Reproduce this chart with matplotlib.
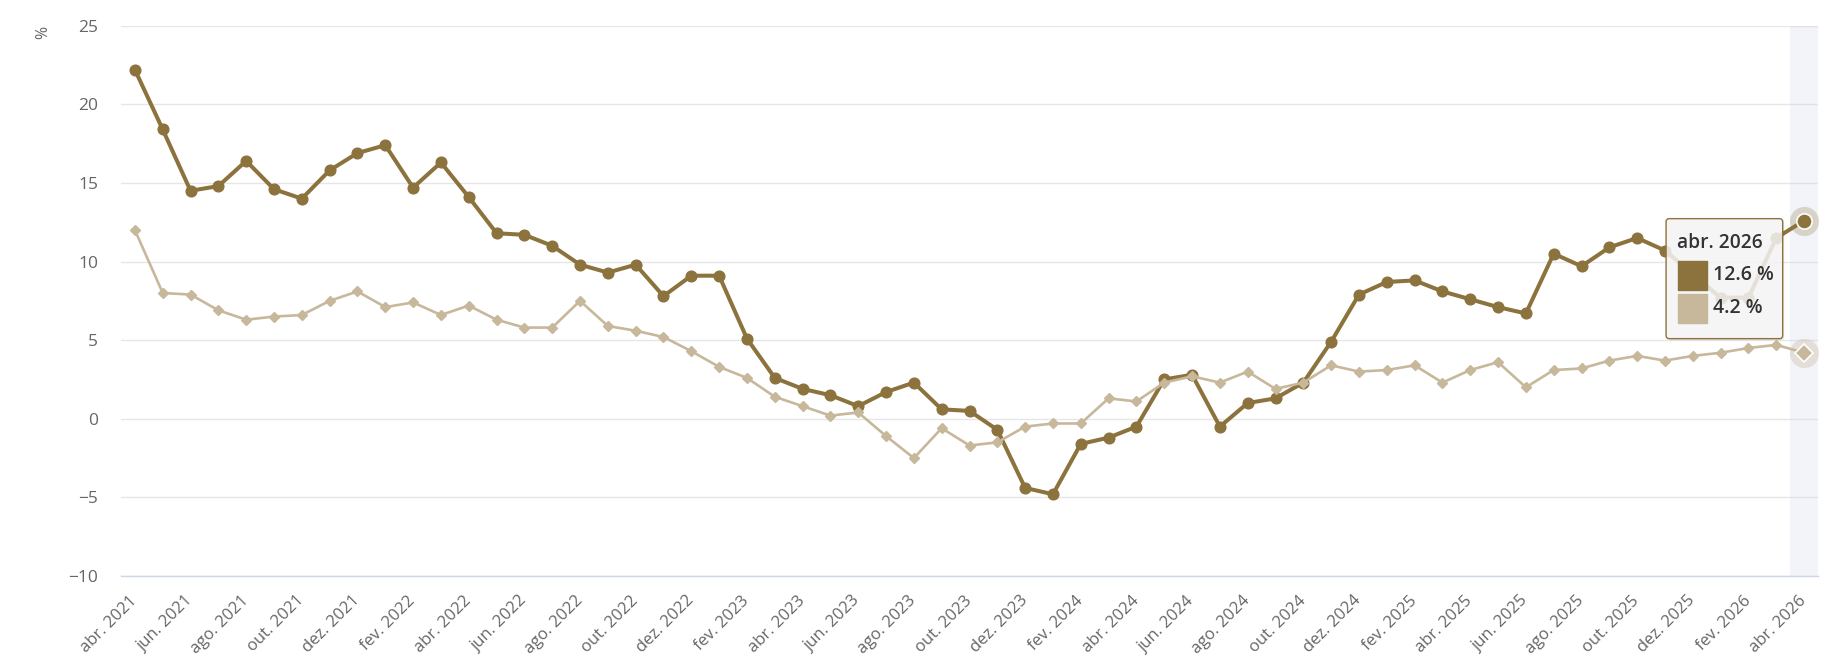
import matplotlib.pyplot as plt
from matplotlib.patches import Rectangle, FancyBboxPatch

plt.rcParams['font.family'] = ['Open Sans', 'DejaVu Sans']

# categorias mensais abr. 2021 .. abr. 2026
meses = ['jan.', 'fev.', 'mar.', 'abr.', 'mai.', 'jun.',
         'jul.', 'ago.', 'set.', 'out.', 'nov.', 'dez.']
categorias = []
for i in range(61):
    m = (3 + i) % 12
    ano = 2021 + (3 + i) // 12
    categorias.append(meses[m] + ' ' + str(ano))

serie_escura = [22.2, 18.4, 14.5, 14.8, 16.4, 14.6, 14.0, 15.8, 16.9, 17.4,
                14.7, 16.3, 14.1, 11.8, 11.7, 11.0, 9.8, 9.3, 9.8, 7.8,
                9.1, 9.1, 5.1, 2.6, 1.9, 1.5, 0.8, 1.7, 2.3, 0.6,
                0.5, -0.7, -4.4, -4.8, -1.6, -1.2, -0.5, 2.5, 2.8, -0.5,
                1.0, 1.3, 2.3, 4.9, 7.9, 8.7, 8.8, 8.1, 7.6, 7.1,
                6.7, 10.5, 9.7, 10.9, 11.5, 10.7, 9.2, 7.7, 7.7, 11.5, 12.6]
serie_clara = [12.0, 8.0, 7.9, 6.9, 6.3, 6.5, 6.6, 7.5, 8.1, 7.1,
               7.4, 6.6, 7.2, 6.3, 5.8, 5.8, 7.5, 5.9, 5.6, 5.2,
               4.3, 3.3, 2.6, 1.4, 0.8, 0.2, 0.4, -1.1, -2.5, -0.6,
               -1.7, -1.5, -0.5, -0.3, -0.3, 1.3, 1.1, 2.3, 2.7, 2.3,
               3.0, 1.9, 2.3, 3.4, 3.0, 3.1, 3.4, 2.3, 3.1, 3.6,
               2.0, 3.1, 3.2, 3.7, 4.0, 3.7, 4.0, 4.2, 4.5, 4.7, 4.2]

y_ticks = [-10, -5, 0, 5, 10, 15, 20, 25]

COR1 = '#8c723c'
COR2 = '#c7b89c'
TXT = '#666666'

W, H = 1845, 665
fig = plt.figure(figsize=(W / 100, H / 100), dpi=100)
ax = fig.add_axes([121 / W, 1 - 576 / H, (1818 - 121) / W, (576 - 25.7) / H])

x = list(range(len(categorias)))
ax.set_xlim(-0.5, len(categorias) - 0.5)
ax.set_ylim(-10, 25)

# faixa do crosshair no ultimo ponto
ax.axvspan(x[-1] - 0.5, x[-1] + 0.5, color='#ccd6eb', alpha=0.25, lw=0, zorder=1.5)

ax.plot(x, serie_escura, color=COR1, lw=2.9, marker='o', ms=7.7,
        solid_joinstyle='round', zorder=3)
ax.plot(x, serie_clara, color=COR2, lw=1.9, marker='D', ms=5.2,
        solid_joinstyle='round', zorder=4)

# pontos em hover
ax.plot(x[-1], serie_escura[-1], 'o', ms=21, color=COR1, alpha=0.25, mec='none', zorder=5)
ax.plot(x[-1], serie_escura[-1], 'o', ms=11, color=COR1, mec='white', mew=1.2, zorder=6)
ax.plot(x[-1], serie_clara[-1], 'o', ms=21, color=COR2, alpha=0.35, mec='none', zorder=5)
ax.plot(x[-1], serie_clara[-1], 'D', ms=9, color=COR2, mec='white', mew=1.2, zorder=6)

ax.set_yticks(y_ticks)
ax.set_xticks(x[::2])
ax.set_xticklabels(categorias[::2], rotation=45, ha='right', va='center',
                   rotation_mode='anchor')
ax.tick_params(axis='y', length=0, pad=16.5, labelsize=12.5, labelcolor=TXT)
ax.tick_params(axis='x', length=0, pad=16, labelsize=12, labelcolor=TXT)
ax.grid(axis='y', color='#e6e6e6', lw=1)
ax.set_axisbelow(True)
for s in ['top', 'right', 'left']:
    ax.spines[s].set_visible(False)
ax.spines['bottom'].set_color('#ccd6eb')
ax.spines['bottom'].set_linewidth(1)

fig.text(43 / W, 1 - 32 / H, '%', rotation=90, ha='center', va='center',
         fontsize=11.5, color=TXT)

# tooltip
ov = fig.add_axes([0, 0, 1, 1])
ov.set_xlim(0, W)
ov.set_ylim(H, 0)
ov.axis('off')
px, py = ax.transData.transform((x[-1], serie_escura[-1]))
py = H - py
bx, by = px - 138, py - 2
bw, bh = 116.6, 120
ov.add_patch(FancyBboxPatch((bx + 1.5, by + 1.5), bw, bh, boxstyle='round,pad=0,rounding_size=3',
                            fc='black', ec='none', alpha=0.08, zorder=9))
ov.add_patch(FancyBboxPatch((bx, by), bw, bh, boxstyle='round,pad=0,rounding_size=3',
                            fc=(0.97, 0.97, 0.97, 0.85), ec=COR1, lw=1, zorder=10))
ov.text(bx + 10.5, by + 24, categorias[-1], ha='left', va='center', fontsize=13.8,
        fontweight='semibold', color='#333333', zorder=11)
ov.add_patch(Rectangle((bx + 11.5, by + 42), 29.4, 29.7, color=COR1, zorder=11))
ov.add_patch(Rectangle((bx + 11.5, by + 75), 29.4, 29.7, color=COR2, zorder=11))
ov.text(bx + 46.5, by + 56, '%.1f %%' % serie_escura[-1], ha='left', va='center',
        fontsize=14, fontweight='semibold', color='#333333', zorder=11)
ov.text(bx + 46.5, by + 89, '%.1f %%' % serie_clara[-1], ha='left', va='center',
        fontsize=14, fontweight='semibold', color='#333333', zorder=11)

fig.savefig('out.png', dpi=100)
